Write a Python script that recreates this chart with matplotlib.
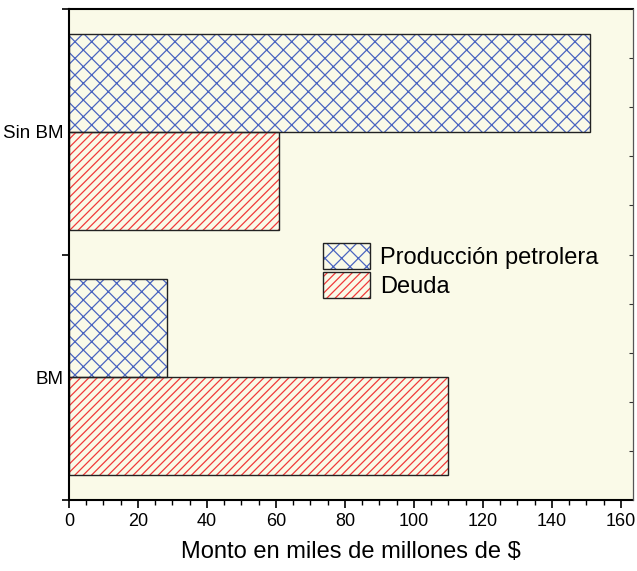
import matplotlib
matplotlib.use("Agg")
import matplotlib.pyplot as plt
from matplotlib.patches import Patch
from matplotlib.legend_handler import HandlerTuple
from matplotlib.ticker import MultipleLocator, FixedLocator
import matplotlib.font_manager as fm

categories = ["BM", "Sin BM"]
produccion = [28.4, 151]
deuda = [110, 61]
series_labels = ["Producción petrolera", "Deuda"]
xticks = [0, 20, 40, 60, 80, 100, 120, 140, 160]

names = {f.name for f in fm.fontManager.ttflist}
fam = "Liberation Sans Narrow" if "Liberation Sans Narrow" in names else "Liberation Sans"
plt.rcParams['font.family'] = [fam, 'DejaVu Sans']
plt.rcParams['hatch.linewidth'] = 0.9

fig = plt.figure(figsize=(6.37, 5.71), dpi=100)
ax = fig.add_axes([69/637, 1-500/571, (633-69)/637, (500-9)/571])
ax.set_facecolor('#FAFAE8')

blue = '#4A64C0'
red = '#F03A3A'
h = 0.4
ypos = list(range(len(categories)))
yp = [y + h/2 for y in ypos]
yd = [y - h/2 for y in ypos]

ax.barh(yp, produccion, height=h, facecolor='none', edgecolor=blue, hatch='xx', linewidth=0)
ax.barh(yp, produccion, height=h, facecolor='none', edgecolor='#222222', linewidth=1.0)
ax.barh(yd, deuda, height=h, facecolor='none', edgecolor=red, hatch='////', linewidth=0)
ax.barh(yd, deuda, height=h, facecolor='none', edgecolor='#222222', linewidth=1.0)

ax.set_xlim(0, 163.5)
ax.set_ylim(-0.5, 1.5)

ax.set_xticks(xticks)
ax.xaxis.set_minor_locator(MultipleLocator(5))
ax.tick_params(axis='x', which='major', direction='out', length=6, width=1.2, labelsize=13, pad=3)
ax.tick_params(axis='x', which='minor', direction='out', length=3.5, width=1.0)

ax.set_yticks(ypos)
ax.set_yticklabels(categories)
ax.yaxis.set_minor_locator(FixedLocator([-0.5, 0.5, 1.5]))
ax.tick_params(axis='y', which='major', length=0, labelsize=13.5, pad=4)
ax.tick_params(axis='y', which='minor', direction='out', length=5, width=1.2)

# right-side inner ticks
ax2 = ax.twinx()
ax2.set_ylim(-0.5, 1.5)
ax2.set_yticks([-0.3, -0.1, 0.1, 0.3, 0.5, 0.7, 0.9, 1.1, 1.3])
ax2.tick_params(axis='y', direction='in', length=3, width=0.8, labelright=False, color='#333333')
for s in ['left', 'top', 'bottom']:
    ax2.spines[s].set_visible(False)
ax2.spines['right'].set_linewidth(0.9)
ax2.spines['right'].set_color('#555555')

for s in ['left', 'top', 'bottom']:
    ax.spines[s].set_linewidth(1.5)
    ax.spines[s].set_color('black')
ax.spines['right'].set_visible(False)

ax.set_xlabel("Monto en miles de millones de $", fontsize=17, labelpad=8)

hp = (Patch(facecolor='none', edgecolor=blue, hatch='xx', linewidth=0),
      Patch(facecolor='none', edgecolor='#222222', linewidth=1.0))
hd = (Patch(facecolor='none', edgecolor=red, hatch='////', linewidth=0),
      Patch(facecolor='none', edgecolor='#222222', linewidth=1.0))
ax.legend([hp, hd], series_labels, handler_map={tuple: HandlerTuple(ndivide=1)},
          loc='upper left', bbox_to_anchor=((323-69)/564, 1-(243-9)/491),
          frameon=False, fontsize=17, handlelength=2.0, handleheight=1.3,
          labelspacing=0.15, handletextpad=0.4, borderpad=0, borderaxespad=0)

fig.savefig("out.png", dpi=100, facecolor='white')
